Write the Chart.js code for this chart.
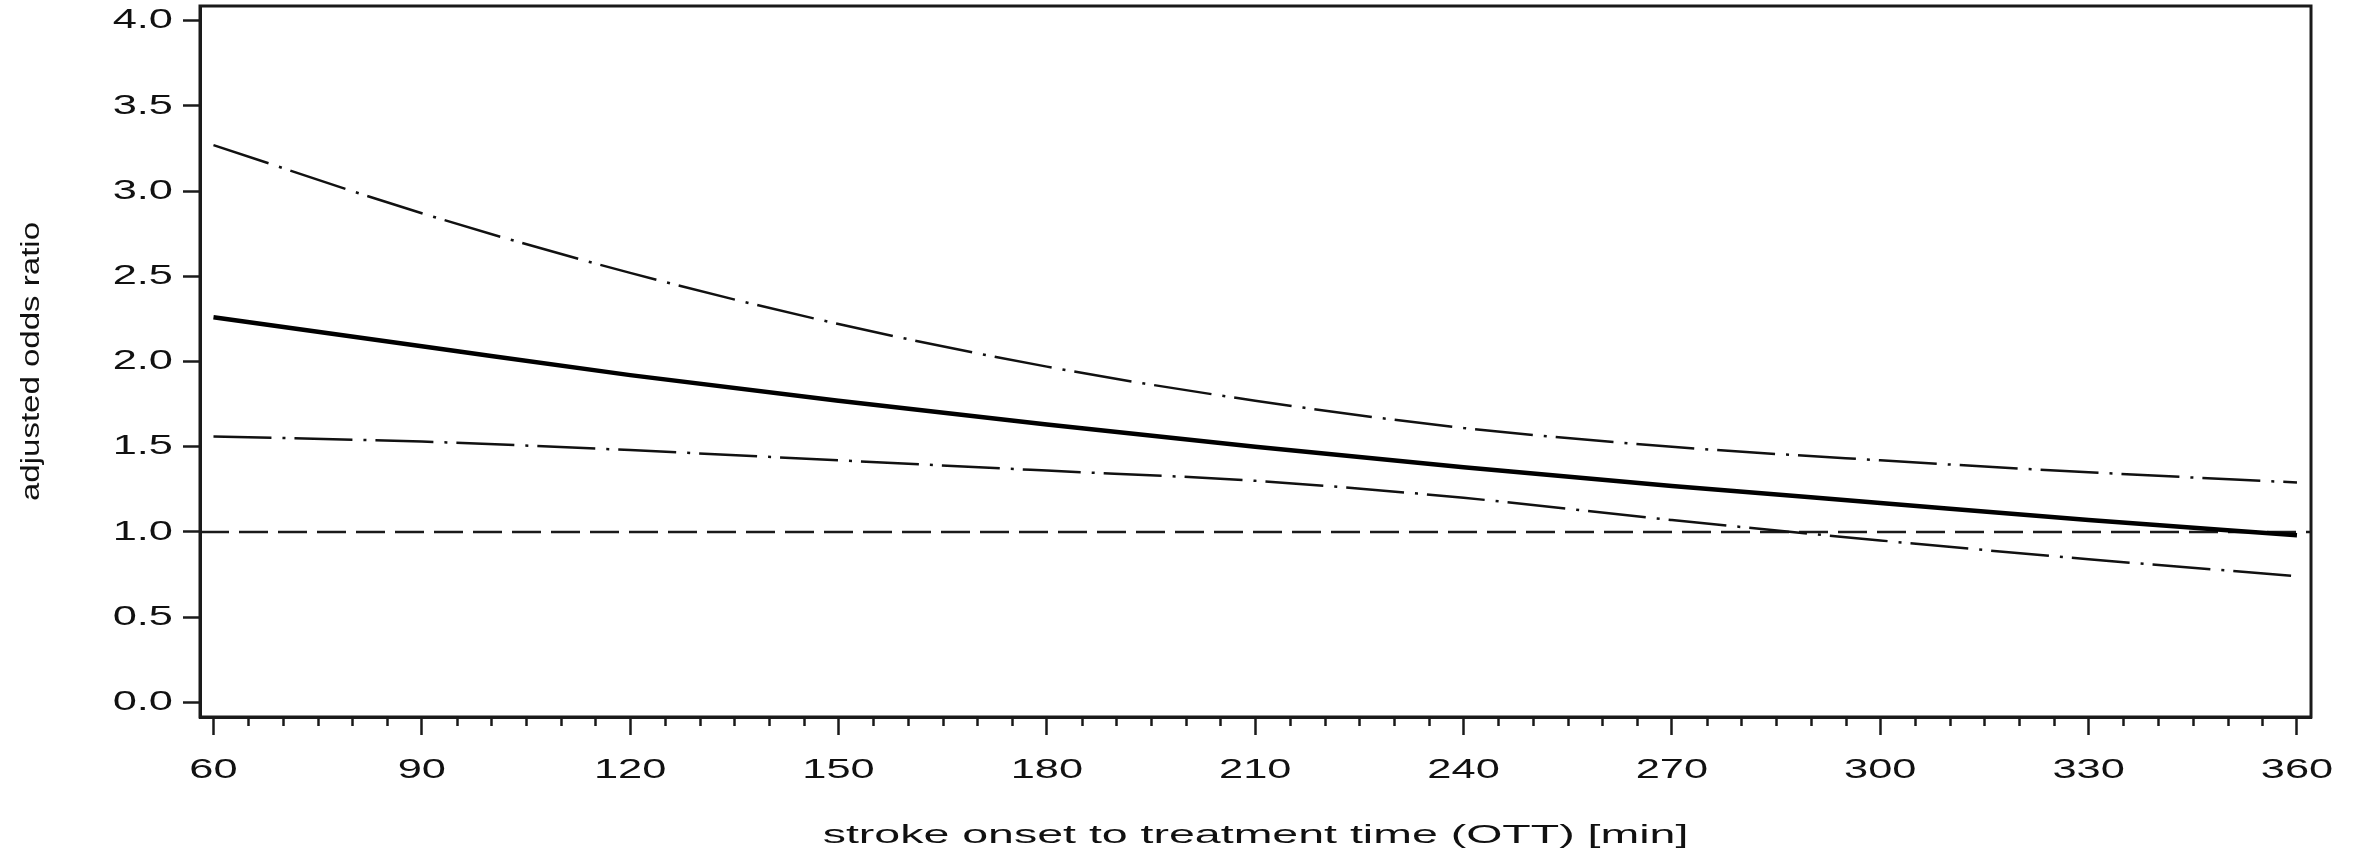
<!DOCTYPE html>
<html>
<head>
<meta charset="utf-8">
<script src="https://cdn.jsdelivr.net/npm/chart.js@4.4.0/dist/chart.umd.min.js"></script>
<style>
  html, body { margin: 0; padding: 0; background: #ffffff; }
  canvas { display: block; }
</style>
</head>
<body>
<canvas id="c" width="2361" height="856" style="width:2361px;height:856px"></canvas>
<script>
// ---- data ----
const ott = [60, 90, 120, 150, 180, 210, 240, 270, 300, 330, 360];
const adjustedOR = [2.26, 2.09, 1.92, 1.77, 1.63, 1.50, 1.38, 1.27, 1.17, 1.07, 0.98];
const upperCI    = [3.27, 2.87, 2.52, 2.22, 1.97, 1.77, 1.61, 1.50, 1.42, 1.35, 1.29];
const lowerCI    = [1.56, 1.53, 1.48, 1.42, 1.36, 1.30, 1.20, 1.07, 0.95, 0.84, 0.74];
const referenceOR = 1.0;
const xTickLabels = [60, 90, 120, 150, 180, 210, 240, 270, 300, 330, 360];
const xMinorStep = 5;
const yTickLabels = [0.0, 0.5, 1.0, 1.5, 2.0, 2.5, 3.0, 3.5, 4.0];
const xTitle = 'stroke onset to treatment time (OTT) [min]';
const yTitle = 'adjusted odds ratio';

// ---- styling ----
const FONT = '"Liberation Sans", Arial, Helvetica, sans-serif';
const textStretch = { [xTitle]: 1.86, [yTitle]: 1.27 };
const tickStretch = 1.55;

const stretchPlugin = {
  id: 'stretchText',
  beforeInit(chart) {
    const ctx = chart.ctx;
    const orig = CanvasRenderingContext2D.prototype.fillText;
    ctx.fillText = function (text, x, y, maxWidth) {
      const sx = textStretch[text] || tickStretch;
      this.save();
      this.translate(x, y);
      this.scale(sx, 1);
      if (maxWidth === undefined) orig.call(this, text, 0, 0);
      else orig.call(this, text, 0, 0, maxWidth / sx);
      this.restore();
    };
  }
};

const framePlugin = {
  id: 'frame',
  beforeDatasetsDraw(chart) {
    const { ctx, chartArea, scales } = chart;
    const y = scales.y.getPixelForValue(referenceOR);
    ctx.save();
    ctx.strokeStyle = '#1a1a1a';
    ctx.lineWidth = 2.5;
    ctx.setLineDash([29, 10]);
    ctx.beginPath();
    ctx.moveTo(chartArea.left, y);
    ctx.lineTo(chartArea.right, y);
    ctx.stroke();
    ctx.restore();
  },
  afterDraw(chart) {
    const { ctx, chartArea, scales } = chart;
    ctx.save();
    ctx.strokeStyle = '#1a1a1a';
    ctx.lineWidth = 3;
    ctx.strokeRect(chartArea.left, chartArea.top, chartArea.right - chartArea.left, chartArea.bottom - chartArea.top);
    // minor ticks on x axis
    ctx.lineWidth = 2.5;
    ctx.beginPath();
    scales.x.ticks.forEach(t => {
      if (!xTickLabels.includes(t.value)) {
        const px = Math.round(scales.x.getPixelForValue(t.value)) + 0.5;
        ctx.moveTo(px, chartArea.bottom);
        ctx.lineTo(px, chartArea.bottom + 9);
      }
    });
    ctx.stroke();
    ctx.restore();
  }
};

const toPts = arr => ott.map((x, i) => ({ x: x, y: arr[i] }));

new Chart(document.getElementById('c'), {
  type: 'line',
  data: {
    datasets: [
      { label: 'upper', data: toPts(upperCI), borderColor: '#111', borderWidth: 2.5,
        borderDash: [58, 11, 3, 9], pointRadius: 0, cubicInterpolationMode: 'monotone', fill: false },
      { label: 'adjusted OR', data: toPts(adjustedOR), borderColor: '#000', borderWidth: 4.5,
        pointRadius: 0, cubicInterpolationMode: 'monotone', fill: false },
      { label: 'lower', data: toPts(lowerCI), borderColor: '#111', borderWidth: 2.5,
        borderDash: [58, 11, 3, 9], pointRadius: 0, cubicInterpolationMode: 'monotone', fill: false }
    ]
  },
  options: {
    responsive: false,
    animation: false,
    devicePixelRatio: 1,
    layout: { padding: { left: 0, top: 6, right: 50, bottom: 0 } },
    plugins: { legend: { display: false }, tooltip: { enabled: false }, title: { display: false } },
    scales: {
      x: {
        type: 'linear',
        position: 'bottom',
        min: 58.06,
        max: 362.02,
        afterBuildTicks: s => {
          const t = [];
          for (let v = xTickLabels[0]; v <= xTickLabels[xTickLabels.length - 1]; v += xMinorStep) t.push({ value: v });
          s.ticks = t;
        },
        afterFit: s => { s.height = 139; s.paddingLeft = 0; s.paddingRight = 0; },
        ticks: {
          autoSkip: false, maxRotation: 0, minRotation: 0,
          color: '#111', padding: 18,
          font: { family: FONT, size: 28 },
          callback: v => (xTickLabels.includes(v) ? String(v) : '')
        },
        grid: {
          drawOnChartArea: false, drawTicks: true, tickLength: 18, tickWidth: 2.5,
          tickColor: c => (c.tick && xTickLabels.includes(c.tick.value) ? '#1a1a1a' : 'rgba(0,0,0,0)')
        },
        border: { display: true, color: '#1a1a1a', width: 3 },
        title: {
          display: true, text: xTitle, color: '#111',
          font: { family: FONT, size: 25 },
          padding: { top: 0, bottom: 5 }
        }
      },
      y: {
        type: 'linear',
        position: 'left',
        min: -0.086,
        max: 4.086,
        afterBuildTicks: s => { s.ticks = yTickLabels.map(v => ({ value: v })); },
        afterFit: s => { s.width = 200; s.paddingTop = 0; s.paddingBottom = 0; },
        ticks: {
          color: '#111', padding: 10,
          font: { family: FONT, size: 28 },
          callback: v => Number(v).toFixed(1)
        },
        grid: { drawOnChartArea: false, drawTicks: true, tickLength: 17, tickWidth: 2.5, tickColor: '#1a1a1a' },
        border: { display: true, color: '#1a1a1a', width: 3 },
        title: {
          display: true, text: yTitle, color: '#111',
          font: { family: FONT, size: 26 },
          padding: { top: 16, bottom: 0 }
        }
      }
    }
  },
  plugins: [stretchPlugin, framePlugin]
});
</script>
</body>
</html>
